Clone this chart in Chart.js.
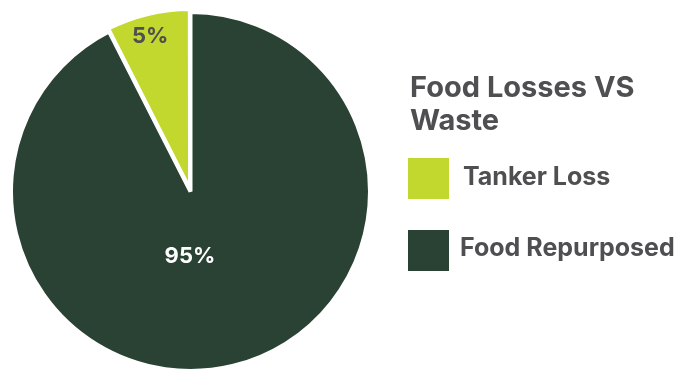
<!DOCTYPE html>
<html>
<head>
<meta charset="utf-8">
<script src="https://cdn.jsdelivr.net/npm/chart.js@4/dist/chart.umd.min.js"></script>
<style>
  html, body { margin: 0; padding: 0; background: #fff; overflow: hidden; }
  #wrap { position: relative; width: 696px; height: 370px; }
</style>
</head>
<body>
<div id="wrap"><canvas id="pie" width="696" height="370"></canvas></div>
<script>
  // data
  var categories = ['Tanker Loss', 'Food Repurposed'];
  var shares = [7.5, 92.5];            // slice sizes as drawn
  var shareLabels = ['5%', '95%'];     // printed labels
  var sliceColors = ['#c2d82e', '#294233'];
  var legendTitle = ['Food Losses VS', 'Waste'];

  var TEXT_GREY = '#4f4e50';
  var FONT = 'Inter, Roboto, sans-serif';

  // percent labels on the slices
  var sliceLabels = {
    id: 'sliceLabels',
    afterDatasetsDraw: function (chart) {
      var ctx = chart.ctx;
      var meta = chart.getDatasetMeta(0);
      var angleFrac = [0.46, 0.542];
      var radiusFrac = [0.85, 0.36];
      var colors = [TEXT_GREY, '#ffffff'];
      meta.data.forEach(function (arc, i) {
        var p = arc.getProps(['x', 'y', 'startAngle', 'endAngle', 'outerRadius'], true);
        var a = p.startAngle + (p.endAngle - p.startAngle) * angleFrac[i];
        var r = p.outerRadius * radiusFrac[i];
        var off = arc.options.offset || 0;
        var mid = (p.startAngle + p.endAngle) / 2;
        var x = p.x + Math.cos(mid) * off + Math.cos(a) * r;
        var y = p.y + Math.sin(mid) * off + Math.sin(a) * r;
        ctx.save();
        ctx.font = 'bold 22px ' + FONT;
        ctx.fillStyle = colors[i];
        ctx.textAlign = 'center';
        ctx.textBaseline = 'middle';
        ctx.fillText(shareLabels[i], x, y);
        ctx.restore();
      });
    }
  };

  // legend on the right, title on two lines
  var sideLegend = {
    id: 'sideLegend',
    afterDraw: function (chart) {
      var ctx = chart.ctx;
      var ds = chart.data.datasets[0];
      ctx.save();
      ctx.fillStyle = TEXT_GREY;
      ctx.textAlign = 'left';
      ctx.textBaseline = 'alphabetic';
      ctx.font = 'bold 29px ' + FONT;
      legendTitle.forEach(function (line, i) {
        ctx.fillText(line, 410, 97 + i * 33);
      });
      ctx.font = 'bold 25px ' + FONT;
      chart.data.labels.forEach(function (label, i) {
        var top = 158 + i * 72;
        ctx.fillStyle = ds.backgroundColor[i];
        ctx.fillRect(408, top, 41, 41);
        ctx.fillStyle = TEXT_GREY;
        ctx.fillText(label, i === 0 ? 463 : 460, top + 27 - i);
      });
      ctx.restore();
    }
  };

  new Chart(document.getElementById('pie'), {
    type: 'pie',
    data: {
      labels: categories,
      datasets: [{
        data: shares,
        backgroundColor: sliceColors,
        borderColor: '#ffffff',
        borderWidth: 4,
        offset: [8, 0],
        hoverOffset: 0
      }]
    },
    options: {
      responsive: false,
      animation: false,
      rotation: -27,
      radius: 179.5,
      layout: { padding: { left: 0, right: 315, top: 13, bottom: 0 } },
      plugins: {
        legend: { display: false },
        tooltip: { enabled: false }
      }
    },
    plugins: [sliceLabels, sideLegend]
  });
</script>
</body>
</html>
